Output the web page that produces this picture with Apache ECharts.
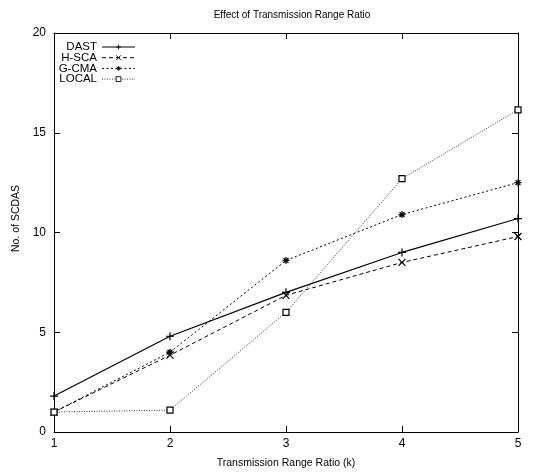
<!DOCTYPE html>
<html>
<head>
<meta charset="utf-8">
<script src="https://cdn.jsdelivr.net/npm/echarts@6/dist/echarts.min.js"></script>
<style>
  html, body { margin: 0; padding: 0; background: #fff; }
  #chart { width: 549px; height: 474px; }
</style>
</head>
<body>
<div id="chart"></div>
<script>
// data
var ratios = [1, 2, 3, 4, 5];
var dast  = [1.8, 4.8, 7.0, 9.0, 10.7];
var hsca  = [1.0, 3.85, 6.85, 8.5, 9.8];
var gcma  = [1.0, 4.0, 8.6, 10.9, 12.5];
var local = [1.0, 1.1, 6.0, 12.7, 16.15];
var yTicks = [0, 5, 10, 15, 20];

function pairs(ys) {
  return ratios.map(function (x, i) { return [x, ys[i]]; });
}

var font = 'Liberation Sans';

var myChart = echarts.init(document.getElementById('chart'));

var tickStyle = { inside: true, length: 6, lineStyle: { color: '#000' } };
var lineAxis = { onZero: false, lineStyle: { color: '#000', width: 1 } };

// stroke-only markers like gnuplot's points
var plusSym = 'path://M5,0L5,10M0,5L10,5';
var crossSym = 'path://M0,0L10,10M10,0L0,10';
var starSym = 'path://M5,0L5,10M0,5L10,5M1.5,1.5L8.5,8.5M8.5,1.5L1.5,8.5';

function mkSeries(name, ys, sym, size, dash, width, color, fill) {
  return {
    name: name,
    type: 'line',
    data: pairs(ys),
    symbol: sym,
    symbolSize: size,
    showAllSymbol: true,
    lineStyle: { color: color, width: width, type: dash },
    itemStyle: { color: fill, borderColor: '#000', borderWidth: 1.2 },
    emphasis: { disabled: true },
    animation: false
  };
}

var option = {
  backgroundColor: '#fff',
  animation: false,
  title: {
    text: 'Effect of Transmission Range Ratio',
    left: 287,
    top: 5,
    textAlign: 'center',
    textStyle: { fontFamily: font, fontSize: 10, fontWeight: 'normal', color: '#000' }
  },
  legend: {
    orient: 'vertical',
    left: 52,
    top: 36,
    align: 'right',
    itemWidth: 33,
    itemHeight: 6,
    itemGap: -1.3,
    itemStyle: { borderWidth: 0.9 },
    lineStyle: { width: 1 },
    textStyle: { fontFamily: font, fontSize: 11.5, color: '#000', width: 40, align: 'right', lineHeight: 10.6 },
    data: ['DAST', 'H-SCA', 'G-CMA', 'LOCAL']
  },
  grid: { left: 54, right: 31, top: 33, bottom: 42 },
  xAxis: [
    {
      type: 'value', min: ratios[0], max: ratios[ratios.length - 1], interval: 1,
      name: 'Transmission Range Ratio (k)', nameLocation: 'middle', nameGap: 26,
      nameTextStyle: { fontFamily: font, fontSize: 10.5, color: '#000' },
      axisLine: lineAxis, axisTick: tickStyle, splitLine: { show: false },
      axisLabel: { fontFamily: font, fontSize: 12, color: '#000', margin: 6 }
    },
    {
      type: 'value', position: 'top', min: ratios[0], max: ratios[ratios.length - 1], interval: 1,
      axisLine: lineAxis, axisTick: tickStyle, splitLine: { show: false },
      axisLabel: { show: false }
    }
  ],
  yAxis: [
    {
      type: 'value', min: yTicks[0], max: yTicks[yTicks.length - 1], interval: 5,
      name: 'No. of SCDAS', nameLocation: 'middle', nameGap: 29,
      nameTextStyle: { fontFamily: font, fontSize: 10.5, color: '#000', padding: [0, 0, 0, 28] },
      axisLine: lineAxis, axisTick: tickStyle, splitLine: { show: false },
      axisLabel: { fontFamily: font, fontSize: 12, color: '#000', margin: 8 }
    },
    {
      type: 'value', position: 'right', min: yTicks[0], max: yTicks[yTicks.length - 1], interval: 5,
      axisLine: lineAxis, axisTick: tickStyle, splitLine: { show: false },
      axisLabel: { show: false }
    }
  ],
  series: [
    mkSeries('DAST', dast, plusSym, 8, 'solid', 1.2, '#000', '#000'),
    mkSeries('H-SCA', hsca, crossSym, 7, [4, 3], 1, '#000', '#000'),
    mkSeries('G-CMA', gcma, starSym, 7, [2, 2.5], 1, '#000', '#000'),
    mkSeries('LOCAL', local, 'rect', 6, [1, 1.5], 1, '#333', '#fff')
  ]
};

myChart.setOption(option);
window.addEventListener('resize', myChart.resize);
</script>
</body>
</html>
